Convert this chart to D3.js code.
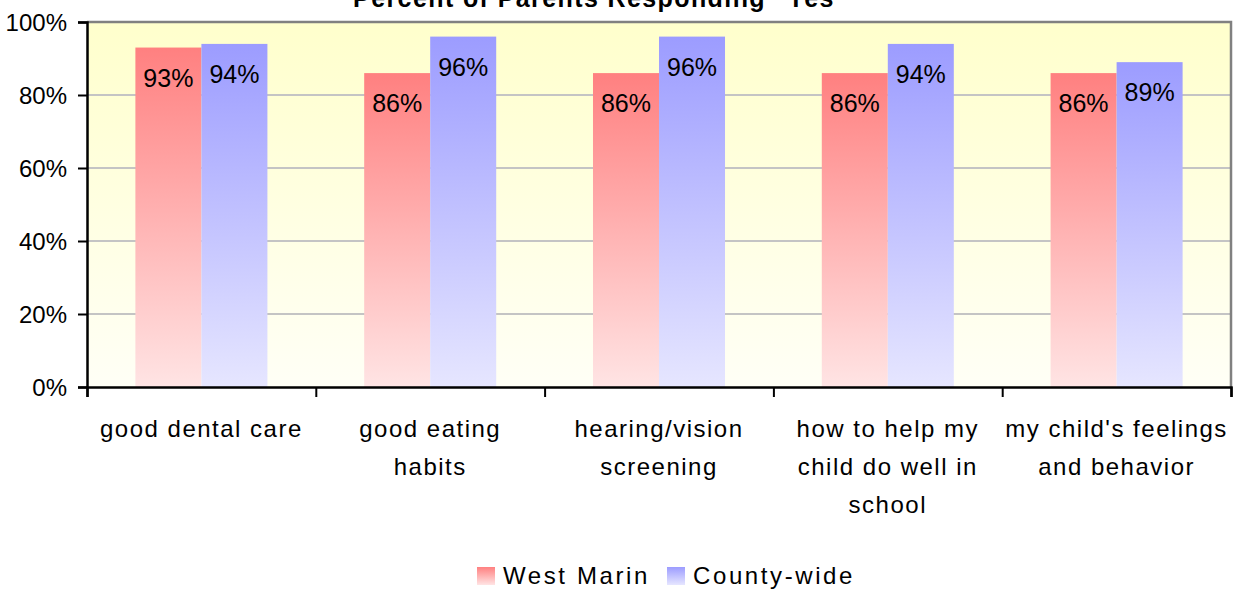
<!DOCTYPE html>
<meta charset="utf-8">
<script src="https://d3js.org/d3.v7.min.js"></script>
<style>
  body { margin: 0; background: #fff; }
  svg text { font-family: "Liberation Sans", Arial, sans-serif; fill: #000; }
</style>
<div id="chart"></div>
<script>

// data
let categories = ["good dental care", "good eating habits", "hearing/vision screening",
                  "how to help my child do well in school", "my child's feelings and behavior"];
let catLines = [["good dental care"], ["good eating", "habits"], ["hearing/vision", "screening"],
                ["how to help my", "child do well in", "school"], ["my child's feelings", "and behavior"]];
let series = ["West Marin", "County-wide"];
let westMarin = [93, 86, 86, 86, 86];
let countyWide = [94, 96, 96, 94, 89];
let yTicks = [0, 20, 40, 60, 80, 100];

let W = 1241, H = 591;
let margin = {top: 22, right: 10, bottom: 204, left: 87},
    width = W - margin.left - margin.right,
    height = H - margin.top - margin.bottom;

let svg = d3.select("#chart").append("svg")
    .attr("width", W).attr("height", H);

// gradients
let defs = svg.append("defs");
function grad(id, top, bottom) {
  let g = defs.append("linearGradient").attr("id", id)
      .attr("x1", 0).attr("y1", 0).attr("x2", 0).attr("y2", 1);
  g.append("stop").attr("offset", "0%").attr("stop-color", top);
  g.append("stop").attr("offset", "100%").attr("stop-color", bottom);
}
grad("bg", "#ffffcc", "#fffff6");
grad("red", "#ff8080", "#ffe4e4");
grad("blue", "#9c9cff", "#e6e6ff");
let fills = ["url(#red)", "url(#blue)"];

let g = svg.append("g").attr("transform", "translate(" + margin.left + "," + margin.top + ")");

let x0 = d3.scaleBand().domain(categories).range([0, width])
    .paddingInner(0.423).paddingOuter(0.2115);
let x1 = d3.scaleBand().domain(series).range([0, x0.bandwidth()]);
let y = d3.scaleLinear().domain([0, 100]).range([height, 0]);

// plot background
g.append("rect").attr("width", width).attr("height", height).attr("fill", "url(#bg)");

// gridlines
g.selectAll(".grid").data(yTicks.filter(d => d > 0 && d < 100)).enter()
  .append("line")
    .attr("x1", 0).attr("x2", width)
    .attr("y1", d => y(d)).attr("y2", d => y(d))
    .attr("stroke", "#c4c4c4").attr("stroke-width", 2);

// top and right border
g.append("path")
  .attr("d", "M0," + y(100) + "H" + width + "V" + height)
  .attr("fill", "none").attr("stroke", "#808080").attr("stroke-width", 2.5);

// bars
let rows = categories.map((c, i) => ({cat: c, vals: [westMarin[i], countyWide[i]]}));
let grp = g.selectAll(".grp").data(rows).enter().append("g")
    .attr("transform", d => "translate(" + x0(d.cat) + ",0)");
grp.selectAll("rect").data(d => d.vals.map((v, j) => ({s: series[j], v: v, j: j}))).enter()
  .append("rect")
    .attr("x", d => x1(d.s))
    .attr("y", d => y(d.v))
    .attr("width", x1.bandwidth())
    .attr("height", d => height - y(d.v))
    .attr("fill", d => fills[d.j]);
grp.selectAll("text").data(d => d.vals.map((v, j) => ({s: series[j], v: v}))).enter()
  .append("text")
    .attr("x", d => x1(d.s) + x1.bandwidth() / 2)
    .attr("y", d => y(d.v) + 39)
    .attr("text-anchor", "middle")
    .style("font-size", "25px")
    .text(d => d.v + "%");

// y axis
let yAxis = g.append("g")
    .call(d3.axisLeft(y).tickValues(yTicks).tickFormat(d => d + "%").tickSize(9).tickPadding(11));
yAxis.select(".domain").attr("stroke", "#000").attr("stroke-width", 2.5);
yAxis.selectAll(".tick line").attr("stroke", "#000").attr("stroke-width", 2);
yAxis.selectAll("text").style("font-size", "24px").attr("dy", "0.35em");

// x axis: ticks at category boundaries
let xb = d3.scaleLinear().domain([0, categories.length]).range([0, width]);
let xAxis = g.append("g").attr("transform", "translate(0," + height + ")")
    .call(d3.axisBottom(xb).ticks(categories.length).tickSize(10).tickFormat(""));
xAxis.select(".domain").attr("stroke", "#000").attr("stroke-width", 2.5);
xAxis.selectAll(".tick line").attr("stroke", "#000").attr("stroke-width", 2);

// category labels
let cl = g.selectAll(".cat").data(categories).enter().append("text")
    .attr("text-anchor", "middle")
    .attr("transform", d => "translate(" + (x0(d) + x0.bandwidth() / 2) + "," + (height + 50) + ")")
    .style("font-size", "24px")
    .style("letter-spacing", "1.5px");
cl.selectAll("tspan").data((d, i) => catLines[i]).enter().append("tspan")
    .attr("x", 0).attr("dy", (d, i) => i ? 38 : 0)
    .text(d => d);

// title
svg.append("text")
    .attr("x", 594).attr("y", 7)
    .attr("text-anchor", "middle")
    .style("font-size", "25px").style("font-weight", "bold")
    .style("letter-spacing", "1.4px")
    .text("Percent  of  Parents Responding  \"Yes");

// legend
let legX = [477, 667];
let leg = svg.selectAll(".leg").data(series).enter().append("g")
    .attr("transform", (d, i) => "translate(" + legX[i] + ",567)");
leg.append("rect").attr("width", 18).attr("height", 18).attr("fill", (d, i) => fills[i]);
leg.append("text").attr("x", 26).attr("y", 17)
    .style("font-size", "24px").style("letter-spacing", "2.6px")
    .text(d => d);

</script>
